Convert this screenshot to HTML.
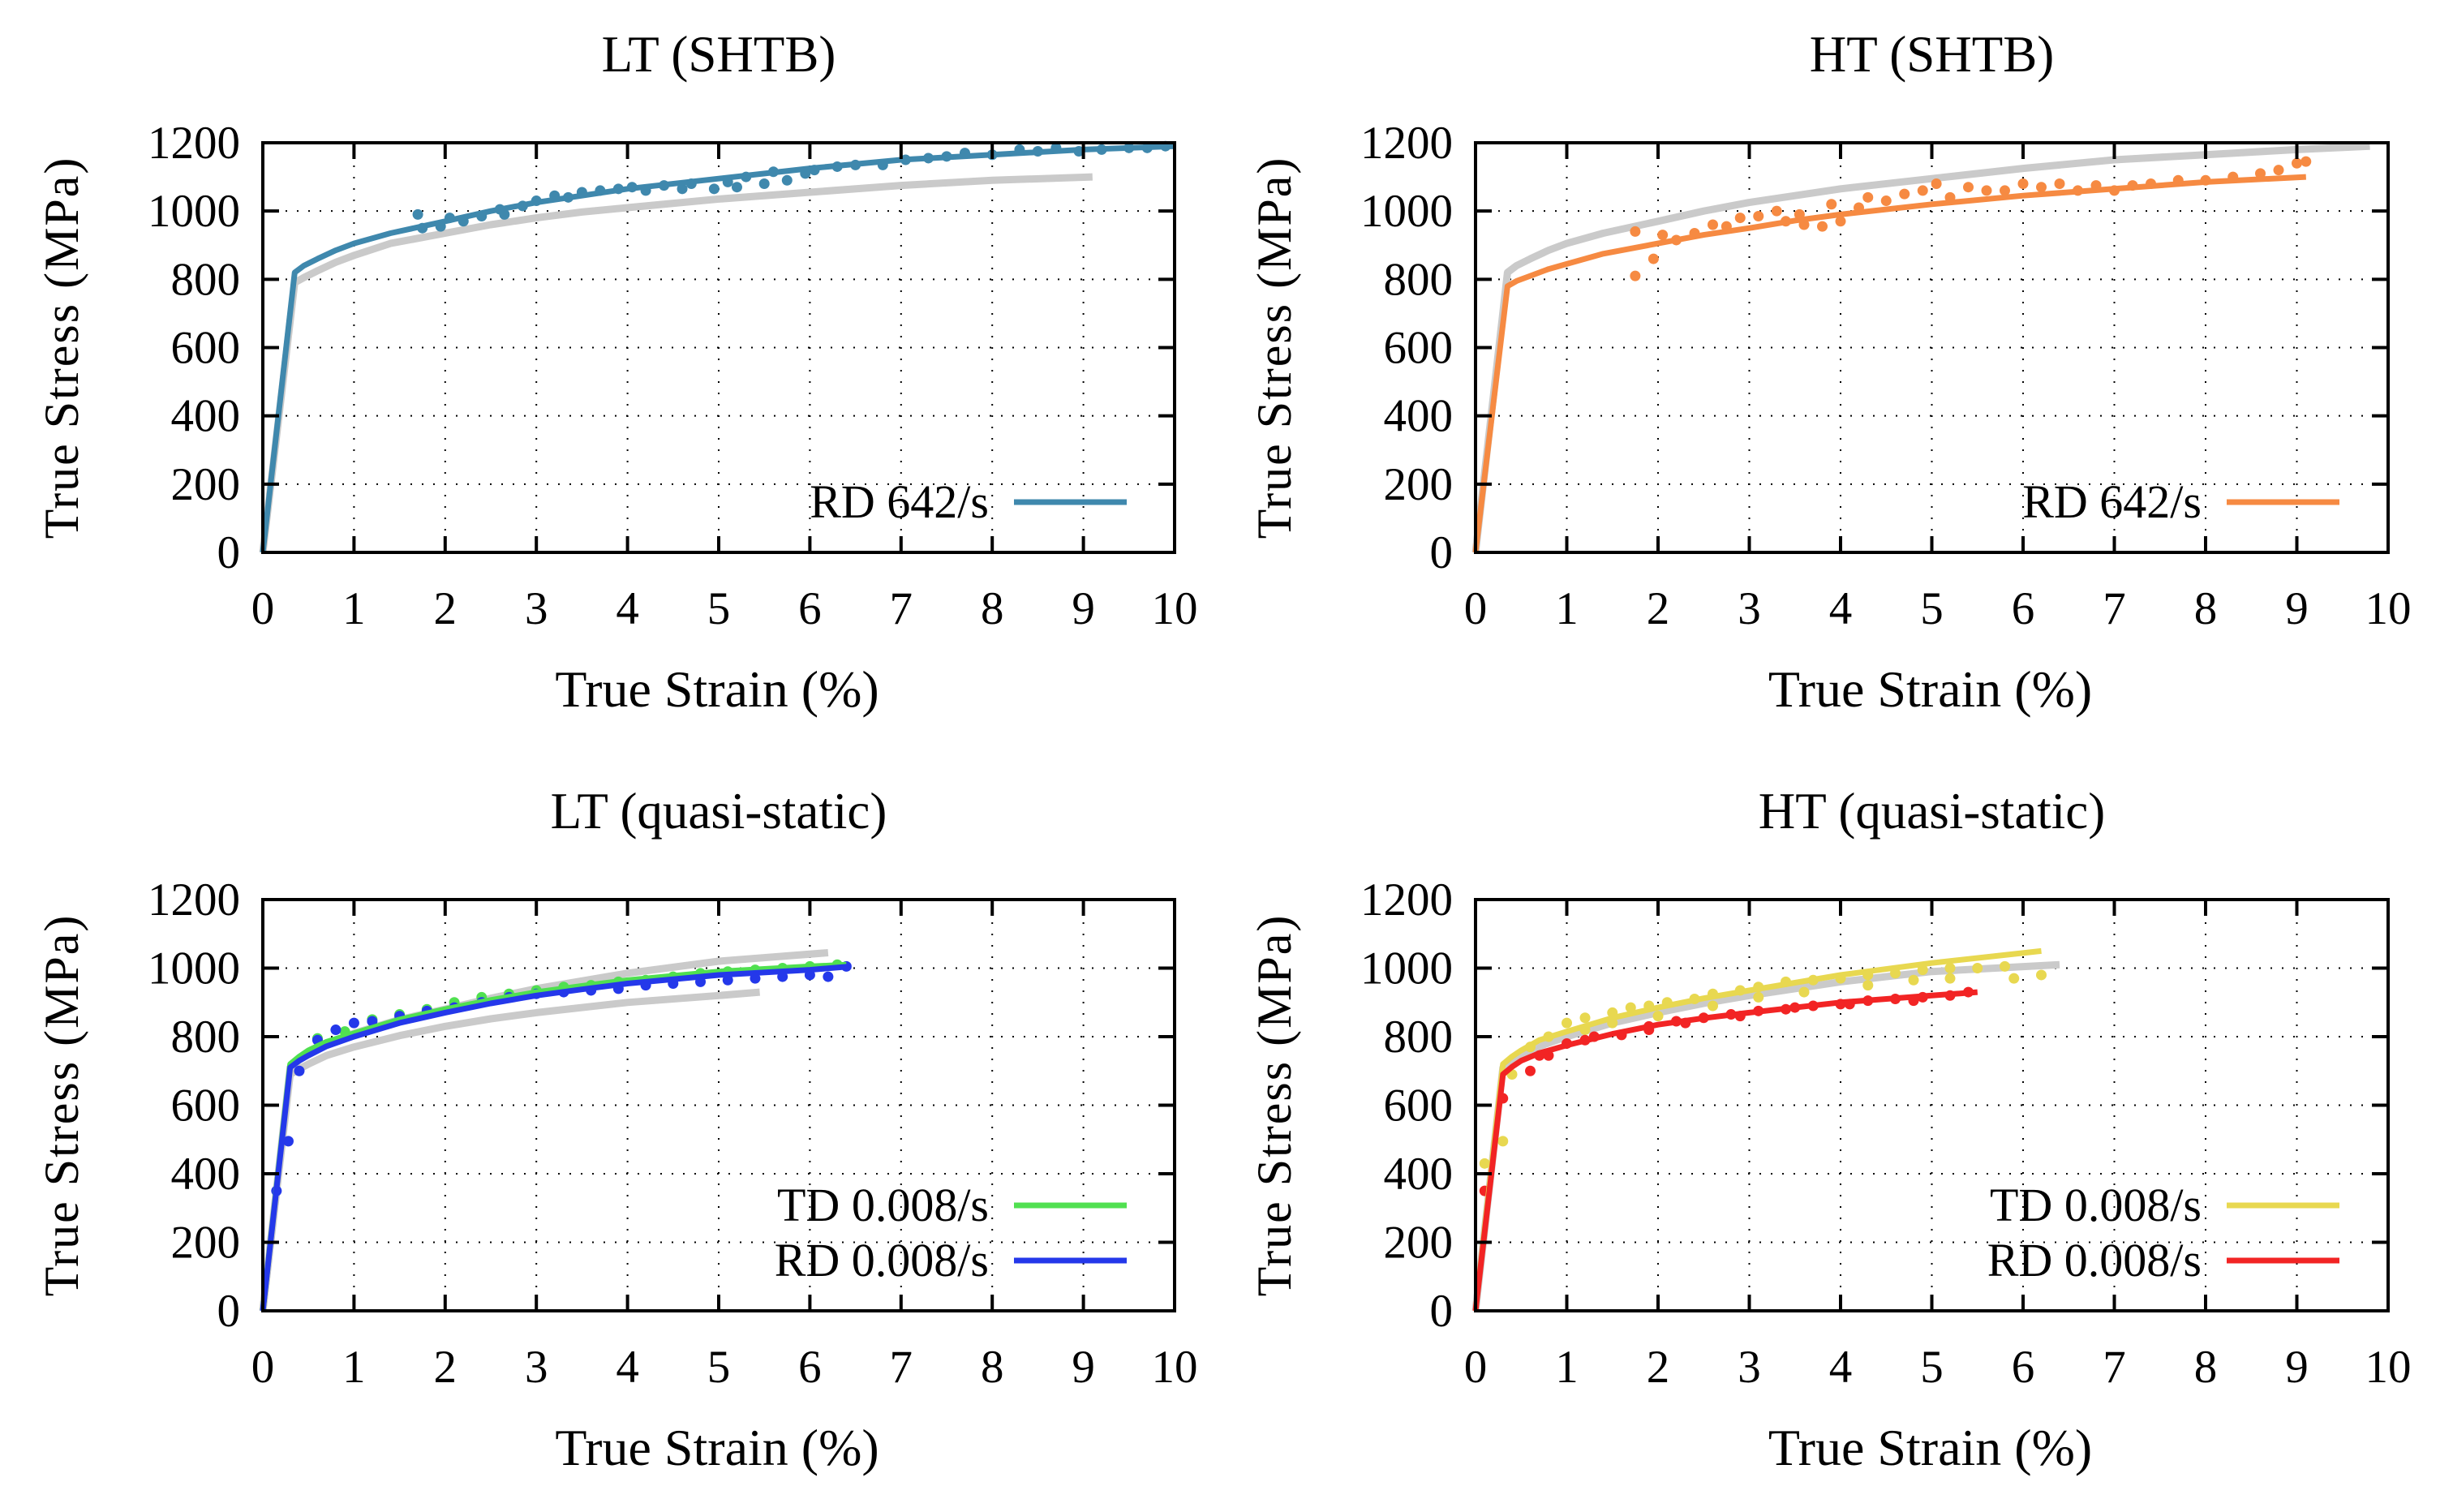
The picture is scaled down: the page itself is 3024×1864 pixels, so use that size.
<!DOCTYPE html>
<html><head><meta charset="utf-8"><style>
html,body{margin:0;padding:0;background:#fff;}
svg{display:block;}
text{font-family:"Liberation Serif",serif;fill:#000;}
</style></head><body>
<svg id="fig" width="3024" height="1864" viewBox="0 0 3024 1864"></svg>
<script>
// ---- data ----
const xTicks=[0,1,2,3,4,5,6,7,8,9,10];
const yTicks=[0,200,400,600,800,1000,1200];
const titles=["LT (SHTB)","HT (SHTB)","LT (quasi-static)","HT (quasi-static)"];
// panel 1 (LT SHTB)
const p1FitRD=[[0,0],[0.35,820],[0.45,840],[0.6,860],[0.8,885],[1,905],[1.4,935],[2,970],[2.5,1000],[3,1025],[3.5,1045],[4,1065],[5,1095],[6,1125],[7,1150],[8,1165],[9,1180],[10,1190]];
const p1Gray=[[0,0],[0.35,790],[0.45,805],[0.6,825],[0.8,850],[1,870],[1.4,905],[2,935],[2.5,960],[3,980],[3.5,997],[4,1010],[5,1035],[6,1055],[7,1075],[8,1090],[9.1,1100]];
const p1Dots=[[1.7,990],[1.75,950],[1.95,955],[2.05,980],[2.2,970],[2.4,985],[2.6,1005],[2.65,990],[2.85,1015],[3.0,1030],[3.2,1045],[3.35,1040],[3.5,1055],[3.7,1060],[3.9,1065],[4.05,1070],[4.2,1060],[4.4,1075],[4.6,1065],[4.7,1080],[4.95,1065],[5.1,1085],[5.2,1070],[5.3,1100],[5.5,1080],[5.6,1115],[5.75,1090],[5.95,1110],[6.05,1120],[6.3,1130],[6.5,1135],[6.8,1135],[7.05,1150],[7.3,1155],[7.5,1160],[7.7,1170],[8.0,1165],[8.3,1180],[8.5,1175],[8.7,1185],[8.95,1175],[9.2,1180],[9.5,1185],[9.7,1185],[9.9,1190]];
// panel 2 (HT SHTB)
const p2FitRD=[[0,0],[0.35,780],[0.45,795],[0.6,810],[0.8,830],[1,845],[1.4,875],[2,905],[2.5,930],[3,950],[3.5,972],[4,990],[5,1020],[6,1045],[7,1065],[8,1085],[9.1,1100]];
const p2Gray=[[0,0],[0.35,820],[0.45,840],[0.6,860],[0.8,885],[1,905],[1.4,935],[2,970],[2.5,1000],[3,1025],[3.5,1045],[4,1065],[5,1095],[6,1125],[7,1150],[8,1165],[9,1180],[9.8,1190]];
const p2Dots=[[1.75,810],[1.75,940],[1.95,860],[2.05,930],[2.2,915],[2.4,935],[2.6,960],[2.75,955],[2.9,980],[3.1,985],[3.3,1000],[3.4,970],[3.55,990],[3.6,960],[3.8,955],[3.9,1020],[4.0,970],[4.2,1010],[4.3,1040],[4.5,1030],[4.7,1050],[4.9,1060],[5.05,1080],[5.2,1040],[5.4,1070],[5.6,1060],[5.8,1060],[6.0,1080],[6.2,1070],[6.4,1080],[6.6,1060],[6.8,1075],[7.0,1060],[7.2,1075],[7.4,1080],[7.7,1090],[8.0,1090],[8.3,1100],[8.6,1110],[8.8,1120],[9.0,1140],[9.1,1145]];
// panel 3 (LT quasi-static)
const p3FitTD=[[0,0],[0.3,720],[0.4,742],[0.5,760],[0.7,785],[1,810],[1.5,850],[2,880],[2.5,907],[3,930],[3.5,948],[4,965],[5,990],[6,1005],[6.4,1010]];
const p3FitRD=[[0,0],[0.3,710],[0.4,730],[0.5,745],[0.7,772],[1,800],[1.5,840],[2,870],[2.5,897],[3,920],[3.5,938],[4,955],[5,980],[6,995],[6.45,1005]];
const p3GrayA=[[0,0],[0.3,710],[0.4,732],[0.5,750],[0.7,780],[1,810],[1.5,850],[2,880],[2.5,912],[3,940],[4,985],[5,1020],[6.2,1045]];
const p3GrayB=[[0,0],[0.3,690],[0.4,706],[0.5,720],[0.7,745],[1,770],[1.5,803],[2,830],[2.5,852],[3,870],[4,900],[5,920],[5.45,930]];
const p3DotsTD=[[0.6,795],[0.9,815],[1.2,850],[1.5,865],[1.8,880],[2.1,900],[2.4,915],[2.7,925],[3.0,935],[3.3,945],[3.6,950],[3.9,960],[4.2,965],[4.5,975],[4.8,985],[5.1,990],[5.4,995],[5.7,1000],[6.0,1005],[6.3,1010]];
const p3DotsRD=[[0.15,350],[0.28,495],[0.4,700],[0.6,790],[0.8,820],[1.0,840],[1.2,845],[1.5,860],[1.8,875],[2.1,885],[2.4,900],[2.7,915],[3.0,925],[3.3,930],[3.6,935],[3.9,940],[4.2,950],[4.5,955],[4.8,960],[5.1,965],[5.4,970],[5.7,975],[6.0,980],[6.2,975],[6.4,1005]];
// panel 4 (HT quasi-static)
const p4FitTD=[[0,0],[0.3,720],[0.4,742],[0.5,760],[0.7,790],[1,815],[1.5,855],[2,885],[2.5,912],[3,935],[4,980],[5,1015],[6.2,1050]];
const p4FitRD=[[0,0],[0.3,690],[0.4,712],[0.5,730],[0.7,752],[1,775],[1.5,808],[2,835],[2.5,854],[3,870],[4,900],[5,920],[5.5,930]];
const p4Gray=[[0,0],[0.3,710],[0.4,730],[0.5,745],[0.7,772],[1,800],[1.5,840],[2,870],[2.5,897],[3,920],[4,960],[5,990],[6.4,1010]];
const p4DotsTD=[[0.1,430],[0.3,495],[0.4,690],[0.6,770],[0.8,800],[1.0,840],[1.2,855],[1.5,870],[1.7,885],[1.9,890],[2.1,900],[2.4,910],[2.6,925],[2.9,935],[3.1,945],[3.4,960],[3.7,965],[4.0,970],[4.3,980],[4.6,985],[4.9,995],[5.2,1000],[5.5,1000],[5.8,1005],[1.2,820],[1.5,840],[2.0,860],[2.6,890],[3.1,915],[3.6,930],[4.3,950],[4.8,965],[5.2,970],[5.9,970],[6.2,980]];
const p4DotsRD=[[0.1,350],[0.3,620],[0.6,700],[0.8,745],[1.0,780],[1.3,800],[1.6,805],[1.9,830],[2.2,845],[2.5,855],[2.8,865],[3.1,875],[3.4,880],[3.7,890],[4.0,895],[4.3,905],[4.6,910],[4.9,915],[5.2,920],[5.4,930],[0.7,745],[1.2,790],[1.9,820],[2.3,840],[2.9,860],[3.5,885],[4.1,895],[4.8,905]];

const NS="http://www.w3.org/2000/svg";
const svg=document.getElementById('fig');
function mk(tag,attrs,parent){const e=document.createElementNS(NS,tag);for(const k in attrs)e.setAttribute(k,attrs[k]);(parent||svg).appendChild(e);return e;}

const panels=[
 {x0:324,x1:1448,y0:176,y1:681,gray:[p1Gray],fits:[{d:p1FitRD,c:"#3f88ad",dots:p1Dots,lab:"RD 642/s"}]},
 {x0:1819,x1:2944,y0:176,y1:681,gray:[p2Gray],fits:[{d:p2FitRD,c:"#f68a42",dots:p2Dots,lab:"RD 642/s"}]},
 {x0:324,x1:1448,y0:1109,y1:1616,gray:[p3GrayA,p3GrayB],fits:[{d:p3FitTD,c:"#50e050",dots:p3DotsTD,lab:"TD 0.008/s"},{d:p3FitRD,c:"#2438ea",dots:p3DotsRD,lab:"RD 0.008/s"}]},
 {x0:1819,x1:2944,y0:1109,y1:1616,gray:[p4Gray],fits:[{d:p4FitTD,c:"#e8d850",dots:p4DotsTD,lab:"TD 0.008/s"},{d:p4FitRD,c:"#f22424",dots:p4DotsRD,lab:"RD 0.008/s"}]}
];

panels.forEach((p,i)=>{
 const g=mk('g',{});
 
 
 const sx=v=>p.x0+(v-0)/10*(p.x1-p.x0);
 const sy=v=>p.y1-(v/1200)*(p.y1-p.y0);
 xTicks.forEach(t=>{const l=mk('line',{x1:sx(t),x2:sx(t),y1:p.y0,y2:p.y1,stroke:"#000","stroke-width":2,"stroke-dasharray":"2 12"},g);});
 yTicks.forEach(t=>{const l=mk('line',{x1:p.x0,x2:p.x1,y1:sy(t),y2:sy(t),stroke:"#000","stroke-width":2,"stroke-dasharray":"2 12"},g);});
 const path=d=>d.map((q,k)=>(k?'L':'M')+sx(q[0]).toFixed(1)+','+sy(q[1]).toFixed(1)).join('');
 p.gray.forEach(d=>{const e=mk('path',{d:path(d),fill:"none",stroke:"#cacaca","stroke-width":9,"stroke-linejoin":"round"},g);});
 p.fits.forEach(f=>{
  f.dots.forEach(q=>{const c=mk('circle',{cx:sx(q[0]),cy:sy(q[1]),r:6.5,fill:f.c},g);});
 });
 p.fits.forEach(f=>{const e=mk('path',{d:path(f.d),fill:"none",stroke:f.c,"stroke-width":7,"stroke-linejoin":"round"},g);});
 const fr=mk('rect',{x:p.x0,y:p.y0,width:p.x1-p.x0,height:p.y1-p.y0,fill:"none",stroke:"#000","stroke-width":4},g);
 
 xTicks.forEach(t=>{
  mk('line',{x1:sx(t),x2:sx(t),y1:p.y1,y2:p.y1-20,stroke:"#000","stroke-width":4},g);
  mk('line',{x1:sx(t),x2:sx(t),y1:p.y0,y2:p.y0+20,stroke:"#000","stroke-width":4},g);
  const tx=mk('text',{x:sx(t),y:p.y1+88,"text-anchor":"middle","font-size":57},g);tx.textContent=t;
  
 });
 yTicks.forEach(t=>{
  mk('line',{x1:p.x0,x2:p.x0+20,y1:sy(t),y2:sy(t),stroke:"#000","stroke-width":4},g);
  mk('line',{x1:p.x1,x2:p.x1-20,y1:sy(t),y2:sy(t),stroke:"#000","stroke-width":4},g);
  const tx=mk('text',{x:p.x0-28,y:sy(t)+19,"text-anchor":"end","font-size":57},g);tx.textContent=t;
  
 });
 const cx=(p.x0+p.x1)/2;
 const tt=mk('text',{x:cx,y:p.y0-88,"text-anchor":"middle","font-size":63},g);tt.textContent=titles[i];
 
 const xt=mk('text',{x:cx-2,y:p.y1+190,"text-anchor":"middle","font-size":64},g);xt.textContent="True Strain (%)";
 
 const ycx=p.x0-228, ycy=(p.y0+p.y1)/2;
 const yt=mk('text',{x:ycx,y:ycy,"text-anchor":"middle","font-size":60,transform:`rotate(-90 ${ycx} ${ycy})`,"letter-spacing":"2"},g);yt.textContent="True Stress (MPa)";
 
 const n=p.fits.length;
 p.fits.forEach((f,k)=>{
  const ly=p.y1-62-(n-1-k)*68;
  const lt=mk('text',{x:p.x0+895,y:ly+19,"text-anchor":"end","font-size":58},g);lt.textContent=f.lab;
  
  const ll=mk('line',{x1:p.x0+926,x2:p.x0+1065,y1:ly,y2:ly,stroke:f.c,"stroke-width":7},g);
  
 });
});
</script>
</body></html>
